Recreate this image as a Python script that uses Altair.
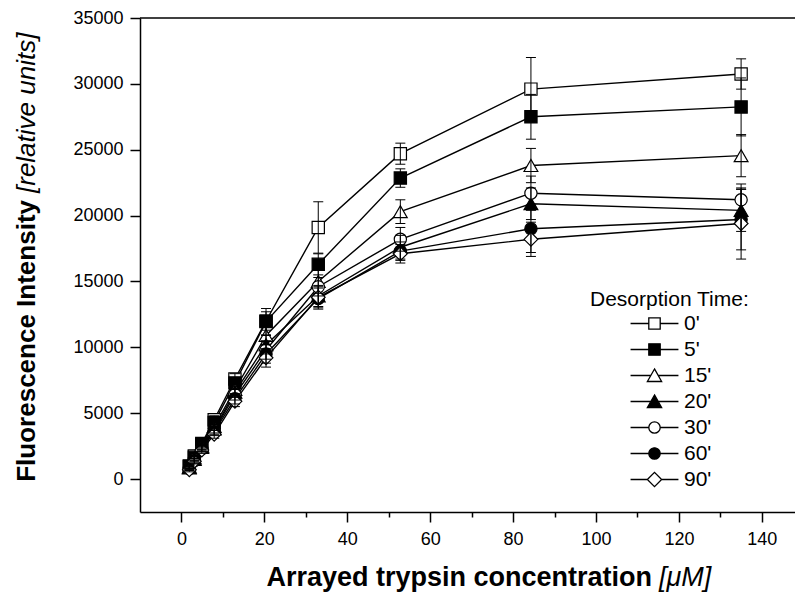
import altair as alt
import pandas as pd

# ---- data ----
conc = [1.9, 3.1, 4.9, 7.9, 12.9, 20.4, 33.0, 52.8, 84.3, 135.0]
series = ["0'", "5'", "15'", "20'", "30'", "60'", "90'"]

y_0 = [1000, 1750, 2700, 4500, 7600, 12000, 19100, 24700, 29600, 30750]
y_5 = [950, 1650, 2600, 4300, 7300, 11950, 16300, 22850, 27500, 28250]
y_15 = [900, 1600, 2500, 4000, 6800, 10900, 15000, 20300, 23800, 24550]
y_20 = [850, 1500, 2400, 3800, 6600, 10200, 13900, 17600, 20900, 20400]
y_30 = [850, 1500, 2350, 3700, 6400, 9800, 14600, 18200, 21700, 21200]
y_60 = [800, 1400, 2300, 3600, 6100, 9500, 13700, 17300, 19000, 19700]
y_90 = [700, 1350, 2200, 3400, 5900, 9200, 13800, 17100, 18200, 19400]

e_0 = [150, 200, 250, 300, 400, 700, 1950, 800, 2400, 1150]
e_5 = [150, 200, 250, 300, 400, 1000, 800, 700, 1700, 2200]
e_15 = [150, 200, 250, 300, 400, 700, 900, 900, 1300, 1600]
e_20 = [150, 200, 250, 300, 400, 700, 800, 900, 1200, 1600]
e_30 = [150, 200, 250, 300, 400, 700, 700, 900, 1300, 1200]
e_60 = [150, 200, 250, 300, 400, 700, 800, 700, 1800, 2300]
e_90 = [150, 200, 250, 300, 400, 700, 800, 700, 1300, 2700]

x_ticks = list(range(0, 141, 10))
y_ticks = list(range(0, 35001, 2500))

values = [y_0, y_5, y_15, y_20, y_30, y_60, y_90]
errors = [e_0, e_5, e_15, e_20, e_30, e_60, e_90]

shapes = ["square", "square", "triangle-up", "triangle-up", "circle", "circle", "diamond"]
fills = ["white", "black", "white", "black", "white", "black", "white"]
# legend symbols: marker with a line stub on each side (Vega custom paths, unit box -1..1)
SQ = "M-4.2,0H-1M1,0H4.2M-1,-1H1V1H-1Z"
TR = "M-4.2,0H-0.66M0.66,0H4.2M0,-1.15L1.25,1.05H-1.25Z"
CI = "M-4.2,0H-1M1,0H4.2M-1,0A1,1 0 1,0 1,0A1,1 0 1,0 -1,0Z"
DI = "M-4.2,0H-1.25M1.25,0H4.2M-1.25,0L0,-1.25L1.25,0L0,1.25Z"
legend_paths = [SQ, SQ, TR, TR, CI, CI, DI]

rows = []
for s, vals, errs in zip(series, values, errors):
    for c, v, e in zip(conc, vals, errs):
        rows.append({"series": s, "conc": c, "value": v, "lo": v - e, "hi": v + e})
df = pd.DataFrame(rows)

FONT = "Liberation Sans"
W, H = 655, 494

xs = alt.Scale(domain=[-10, 148], nice=False, zero=False)
ys = alt.Scale(domain=[-2500, 35000], nice=False, zero=False)

x_axis = alt.Axis(
    values=x_ticks, title=None, grid=False,
    labelExpr="datum.value % 20 === 0 ? datum.label : ''",
    tickSize={"condition": {"test": "datum.value % 20 === 0", "value": 10}, "value": 5},
    labelPadding=8,
)
y_axis = alt.Axis(
    values=y_ticks, title=None, grid=False, format="d",
    labelExpr="datum.value % 5000 === 0 ? datum.label : ''",
    tickSize={"condition": {"test": "datum.value % 5000 === 0", "value": 10}, "value": 5},
    labelPadding=7,
)

base = alt.Chart(df)

lines = base.mark_line(color="black", strokeWidth=1.4).encode(
    x=alt.X("conc:Q", scale=xs, axis=x_axis),
    y=alt.Y("value:Q", scale=ys, axis=y_axis),
    detail="series:N",
)

point_layers = []
for s, shp, f in zip(series, shapes, fills):
    point_layers.append(
        base.transform_filter(alt.datum.series == s).mark_point(
            shape=shp, fill=f, opacity=1, fillOpacity=1, stroke="black",
            strokeWidth=1.2, size=150 if shp in ("square", "circle") else 190,
        ).encode(x=alt.X("conc:Q", scale=xs), y=alt.Y("value:Q", scale=ys))
    )

bars = base.mark_rule(color="black", strokeWidth=1).encode(
    x=alt.X("conc:Q", scale=xs),
    y=alt.Y("lo:Q", scale=ys),
    y2="hi:Q",
)
cap_lo = base.mark_tick(orient="horizontal", size=10, thickness=1, color="black", opacity=1).encode(
    x=alt.X("conc:Q", scale=xs), y=alt.Y("lo:Q", scale=ys)
)
cap_hi = base.mark_tick(orient="horizontal", size=10, thickness=1, color="black", opacity=1).encode(
    x=alt.X("conc:Q", scale=xs), y=alt.Y("hi:Q", scale=ys)
)

legend = alt.Legend(
    title="Desorption Time:", orient="none", legendX=450, legendY=271,
    titleFont=FONT, titleFontSize=21, titleFontWeight="normal", titleColor="black",
    titlePadding=3, labelFont=FONT, labelFontSize=21, labelColor="black",
    symbolSize=130, symbolStrokeColor="black", symbolStrokeWidth=1.3, symbolOpacity=1,
    symbolOffset=54, labelOffset=19, rowPadding=4, padding=0,
)
# carrier of the legend only: zero-size marks
legend_layer = base.mark_point(size=0, opacity=1, fillOpacity=1, strokeWidth=1.3).encode(
    x=alt.X("conc:Q", scale=xs),
    y=alt.Y("value:Q", scale=ys),
    shape=alt.Shape("series:N", scale=alt.Scale(domain=series, range=legend_paths), legend=legend),
    fill=alt.Fill("series:N", scale=alt.Scale(domain=series, range=fills), legend=legend),
    stroke=alt.Stroke("series:N", scale=alt.Scale(domain=series, range=["black"] * len(series)), legend=legend),
)

one = alt.Chart(pd.DataFrame({"k": [0]}))
top_line = one.mark_rule(color="black", strokeWidth=1.5).encode(
    x=alt.value(0), x2=alt.value(W), y=alt.value(0)
)
xt_bold = one.mark_text(text="Arrayed trypsin concentration", font=FONT, fontSize=27,
                        fontWeight="bold", align="right", baseline="middle", color="black").encode(
    x=alt.value(512), y=alt.value(560))
xt_ital = one.mark_text(text="[\u03bcM]", font=FONT, fontSize=27, fontStyle="italic",
                        align="left", baseline="middle", color="black").encode(
    x=alt.value(519), y=alt.value(560))
yt_bold = one.mark_text(text="Fluorescence Intensity", font=FONT, fontSize=26, fontWeight="bold",
                        angle=270, align="right", baseline="middle", color="black").encode(
    x=alt.value(-113), y=alt.value(182))
yt_ital = one.mark_text(text="[relative units]", font=FONT, fontSize=26, fontStyle="italic",
                        angle=270, align="left", baseline="middle", color="black").encode(
    x=alt.value(-113), y=alt.value(175))

chart = alt.layer(
    lines, *point_layers, bars, cap_lo, cap_hi, legend_layer, top_line,
    xt_bold, xt_ital, yt_bold, yt_ital,
).properties(
    width=W, height=H,
    autosize=alt.AutoSizeParams(type="none"),
    padding={"left": 140, "top": 18, "right": 0, "bottom": 86},
    background="white",
).configure_view(stroke=None).configure_axis(
    domainColor="black", domainWidth=1.5, tickColor="black", tickWidth=1.5,
    labelFont=FONT, labelFontSize=18, labelColor="black",
)

chart.save("out.html", embed_options={"renderer": "svg", "actions": False})
